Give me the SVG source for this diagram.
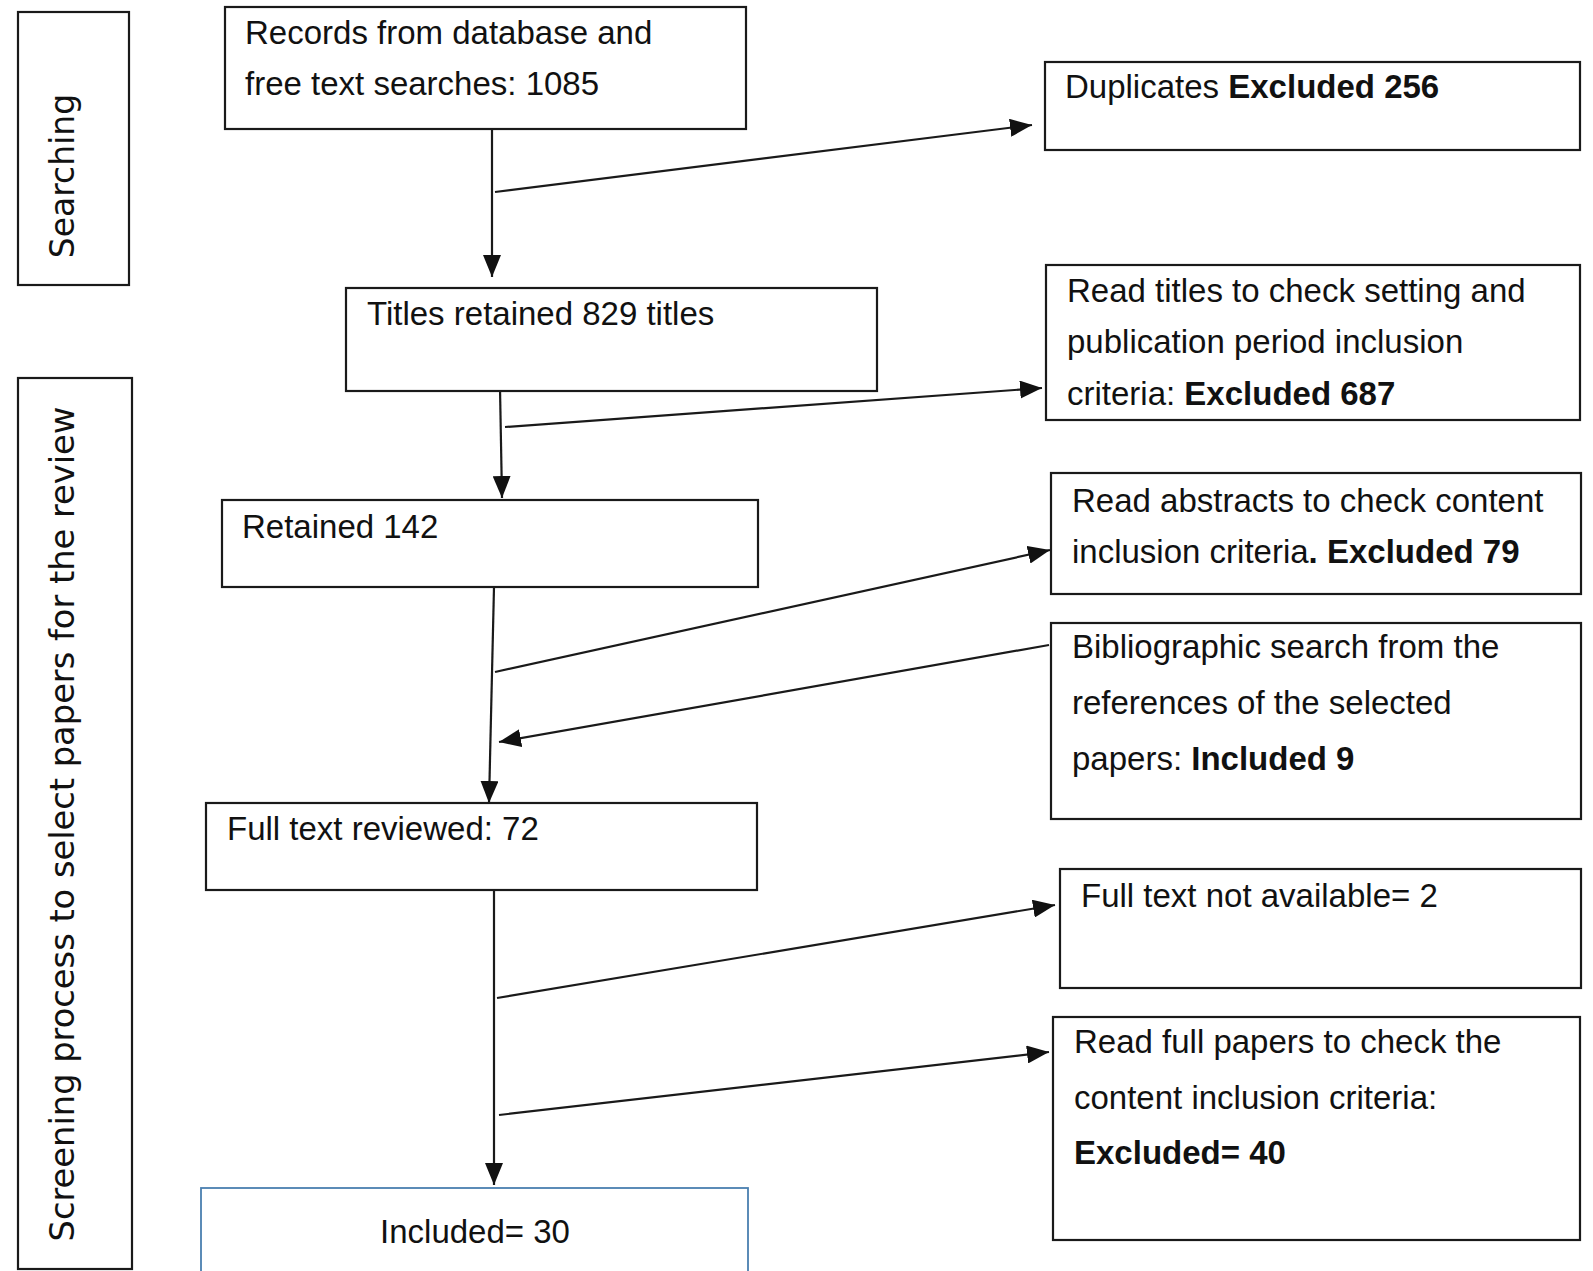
<svg xmlns="http://www.w3.org/2000/svg" width="1593" height="1271" viewBox="0 0 1593 1271">
<style>
.box{fill:#fff;stroke:#1a1a1a;stroke-width:2.2}
.blue{fill:#fff;stroke:#4a7fb0;stroke-width:1.8}
.t{font-family:"Liberation Sans",Arial,sans-serif;font-size:33px;fill:#111}
.v{font-family:"DejaVu Sans",Verdana,sans-serif;font-size:33px;fill:#111}
.b{font-weight:bold}
.c{stroke:#1a1a1a;stroke-width:2.2;fill:none;marker-end:url(#ah)}
</style>
<defs>
<marker id="ah" markerUnits="userSpaceOnUse" markerWidth="22" markerHeight="18" refX="22" refY="9" orient="auto">
<path d="M0,0 L22,9 L0,18 z" fill="#111"/>
</marker>
</defs>
<rect width="1593" height="1271" fill="#fff"/>

<g id="lane-searching">
<rect class="box" x="18" y="12" width="111" height="273"/>
<text class="v" transform="translate(74,176) rotate(-90)" text-anchor="middle">Searching</text>
</g>
<g id="lane-screening">
<rect class="box" x="18" y="378" width="114" height="891"/>
<text class="v" transform="translate(74,824) rotate(-90)" text-anchor="middle" style="font-size:33.7px">Screening process to select papers for the review</text>
</g>

<g id="connectors">
<line class="c" x1="492" y1="124" x2="492" y2="277"/>
<line class="c" x1="495" y1="192" x2="1032" y2="125"/>
<line class="c" x1="500" y1="388" x2="502" y2="498"/>
<line class="c" x1="505" y1="427" x2="1042" y2="388"/>
<line class="c" x1="494" y1="587" x2="489" y2="803"/>
<line class="c" x1="495" y1="672" x2="1050" y2="550"/>
<line class="c" x1="1049" y1="645" x2="499" y2="742"/>
<line class="c" x1="494" y1="890" x2="494" y2="1185"/>
<line class="c" x1="497" y1="998" x2="1055" y2="905"/>
<line class="c" x1="499" y1="1115" x2="1049" y2="1052"/>
</g>

<g id="records">
<rect class="box" x="225" y="7" width="521" height="122"/>
<text class="t" x="245" y="44">Records from database and</text>
<text class="t" x="245" y="95">free text searches: 1085</text>
</g>
<g id="duplicates">
<rect class="box" x="1045" y="62" width="535" height="88"/>
<text class="t" x="1065" y="98">Duplicates <tspan class="b">Excluded 256</tspan></text>
</g>
<g id="titles">
<rect class="box" x="346" y="288" width="531" height="103"/>
<text class="t" x="367" y="325">Titles retained 829 titles</text>
</g>
<g id="read-titles">
<rect class="box" x="1046" y="265" width="534" height="155"/>
<text class="t" x="1067" y="302">Read titles to check setting and</text>
<text class="t" x="1067" y="353">publication period inclusion</text>
<text class="t" x="1067" y="405">criteria: <tspan class="b">Excluded 687</tspan></text>
</g>
<g id="retained">
<rect class="box" x="222" y="500" width="536" height="87"/>
<text class="t" x="242" y="538">Retained 142</text>
</g>
<g id="read-abstracts">
<rect class="box" x="1051" y="473" width="530" height="121"/>
<text class="t" x="1072" y="512">Read abstracts to check content</text>
<text class="t" x="1072" y="563">inclusion criteria<tspan class="b">. Excluded 79</tspan></text>
</g>
<g id="bibliographic">
<rect class="box" x="1051" y="623" width="530" height="196"/>
<text class="t" x="1072" y="658">Bibliographic search from the</text>
<text class="t" x="1072" y="714">references of the selected</text>
<text class="t" x="1072" y="770">papers: <tspan class="b">Included 9</tspan></text>
</g>
<g id="full-text">
<rect class="box" x="206" y="803" width="551" height="87"/>
<text class="t" x="227" y="840">Full text reviewed: 72</text>
</g>
<g id="not-available">
<rect class="box" x="1060" y="869" width="521" height="119"/>
<text class="t" x="1081" y="907">Full text not available= 2</text>
</g>
<g id="read-full">
<rect class="box" x="1053" y="1017" width="527" height="223"/>
<text class="t" x="1074" y="1053">Read full papers to check the</text>
<text class="t" x="1074" y="1109">content inclusion criteria:</text>
<text class="t b" x="1074" y="1164">Excluded= 40</text>
</g>
<g id="included">
<rect class="blue" x="201" y="1188" width="547" height="100"/>
<text class="t" x="475" y="1243" text-anchor="middle">Included= 30</text>
</g>
</svg>
